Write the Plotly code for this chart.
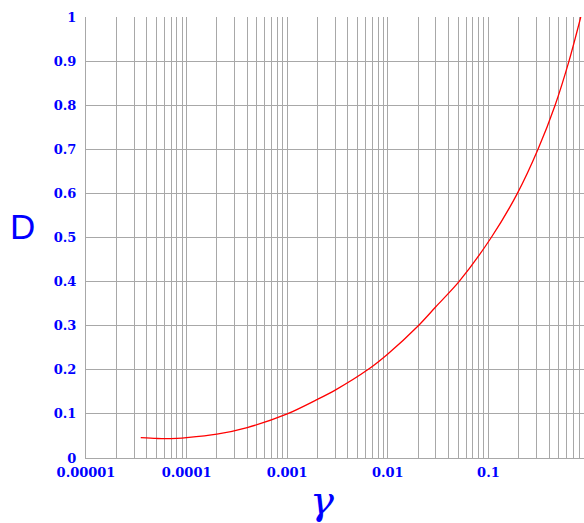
import plotly.graph_objects as go

# values
gamma = [3.5e-5, 5e-5, 6e-5, 8e-5, 1e-4, 2e-4, 4e-4, 1e-3, 2e-3, 3e-3,
         6.3e-3, 1e-2, 2.01e-2, 3e-2, 5.1e-2, 0.1067, 0.194, 0.311, 0.46,
         0.632, 0.828]
D = [0.046, 0.0443, 0.0438, 0.0445, 0.046, 0.054, 0.069, 0.100, 0.133, 0.154,
     0.200, 0.236, 0.300, 0.343, 0.400, 0.500, 0.600, 0.700, 0.800,
     0.900, 1.0]

x_tickvals = [1e-5, 1e-4, 1e-3, 1e-2, 1e-1]
x_ticktext = ['0.00001', '0.0001', '0.001', '0.01', '0.1']
y_tickvals = [0, 0.1, 0.2, 0.3, 0.4, 0.5, 0.6, 0.7, 0.8, 0.9, 1]
y_ticktext = ['0', '0.1', '0.2', '0.3', '0.4', '0.5', '0.6', '0.7', '0.8', '0.9', '1']

grid = '#a8a8a8'
tickfont = dict(family='DejaVu Serif', size=13, color='#0000ff', weight='bold')

fig = go.Figure()
fig.add_trace(go.Scatter(
    x=gamma, y=D, mode='lines',
    line=dict(color='#ff0000', width=1.3, shape='spline', smoothing=0.8),
    showlegend=False,
))

fig.update_layout(
    width=584, height=523,
    margin=dict(l=86, r=0, t=17, b=65),
    plot_bgcolor='white', paper_bgcolor='white',
    xaxis=dict(
        type='log', range=[-5, -0.05],
        tickvals=x_tickvals, ticktext=x_ticktext,
        tickfont=tickfont, ticks='', ticklabelstandoff=2,
        showgrid=True, gridcolor=grid, gridwidth=1,
        minor=dict(dtick='D1', showgrid=True, gridcolor=grid, gridwidth=1, ticks=''),
        showline=True, linecolor=grid, linewidth=1,
        zeroline=False,
    ),
    yaxis=dict(
        range=[0, 1],
        tickvals=y_tickvals, ticktext=y_ticktext,
        tickfont=tickfont, ticks='', ticklabelstandoff=6,
        showgrid=True, gridcolor=grid, gridwidth=1,
        showline=True, linecolor=grid, linewidth=1,
        zeroline=False,
    ),
    annotations=[
        dict(text='D', xref='paper', yref='paper', x=-0.1285, y=0.524,
             showarrow=False, xanchor='center', yanchor='middle',
             font=dict(family='Liberation Sans', size=35, color='#0000ff')),
        dict(text='γ', xref='paper', yref='paper', x=0.474, y=-0.095,
             showarrow=False, xanchor='center', yanchor='middle',
             font=dict(family='DejaVu Serif', size=40, color='#0000ff', style='italic')),
    ],
)

# drop the default 8px body margin so the figure fills the window exactly
fig.write_html('out.html', config={'displayModeBar': False},
               post_script="document.body.style.margin='0';")
